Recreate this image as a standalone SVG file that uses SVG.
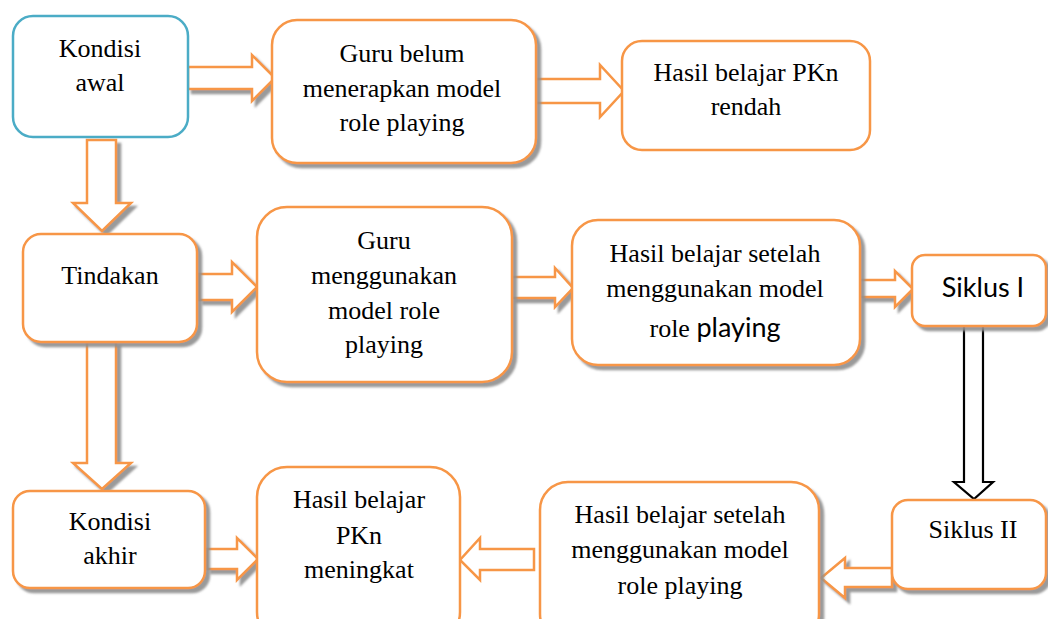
<svg xmlns="http://www.w3.org/2000/svg" width="1048" height="619" viewBox="0 0 1048 619">
  <style>
    .box { fill: #ffffff; stroke: #F79646; stroke-width: 2.5; }
    .blue { fill: #ffffff; stroke: #4BACC6; stroke-width: 2.5; }
    .arr { fill: #ffffff; stroke: #F79646; stroke-width: 2.5; stroke-linejoin: miter; }
    .blk { fill: #ffffff; stroke: #000000; stroke-width: 2.2; }
    .sh { filter: url(#shadow); }
    .t { font-family: "Liberation Serif", "Times New Roman", serif; font-size: 26px; fill: #000000; text-anchor: middle; }
    .cal { font-family: Lato, "Liberation Sans", sans-serif; font-size: 27px; }
  </style>
  <defs>
    <filter id="shadow" x="-10%" y="-10%" width="130%" height="130%">
      <feDropShadow dx="4" dy="4" stdDeviation="0.8" flood-color="#8f8f8f" flood-opacity="0.9"/>
    </filter>
  </defs>
  <rect width="1048" height="619" fill="#ffffff"/>

  <g id="connectors">
    <polygon class="arr sh" points="188,67 252,67 252,55 275,78 252,101 252,89 188,89"/>
    <polygon class="arr" points="536,79 600,79 600,65 624,91 600,117 600,103 536,103"/>
    <polygon class="arr sh" points="87,140 116,140 116,203 131,203 102,231 73,203 87,203"/>
    <polygon class="arr sh" points="199,274 232,274 232,262 257,287 232,312 232,300 199,300"/>
    <polygon class="arr sh" points="512,277 555,277 555,268 573,288 555,307 555,298 512,298"/>
    <polygon class="arr sh" points="860,280 895,280 895,271 913,289 895,307 895,297 860,297"/>
    <polygon class="blk" points="964,325 983,325 983,482 993,482 974,499 954,482 964,482"/>
    <polygon class="arr sh" points="892,568 845,568 845,558 821,578 845,598 845,587 892,587"/>
    <polygon class="arr sh" points="87,342 116,342 116,463 131,463 102,489 73,463 87,463"/>
    <polygon class="arr sh" points="207,549 237,549 237,538 258,559 237,580 237,569 207,569"/>
    <polygon class="arr" points="534,549 480,549 480,538 460,560 480,580 480,570 534,570"/>
  </g>

  <g id="kondisi-awal">
    <rect class="blue" x="13" y="16" width="175" height="121" rx="20"/>
    <text class="t" x="100" y="57">Kondisi</text>
    <text class="t" x="100" y="91">awal</text>
  </g>

  <g id="guru-belum">
    <rect class="box sh" x="272" y="20" width="264" height="143" rx="25"/>
    <text class="t" x="402" y="62">Guru belum</text>
    <text class="t" x="402" y="97">menerapkan model</text>
    <text class="t" x="402" y="131">role playing</text>
  </g>

  <g id="hasil-rendah">
    <rect class="box" x="622" y="41" width="248" height="109" rx="20"/>
    <text class="t" x="746" y="81">Hasil belajar PKn</text>
    <text class="t" x="746" y="115">rendah</text>
  </g>

  <g id="tindakan">
    <rect class="box sh" x="23" y="234" width="174" height="108" rx="18"/>
    <text class="t" x="110" y="284">Tindakan</text>
  </g>

  <g id="guru-menggunakan">
    <rect class="box sh" x="257" y="207" width="255" height="175" rx="30"/>
    <text class="t" x="384" y="249">Guru</text>
    <text class="t" x="384" y="284">menggunakan</text>
    <text class="t" x="384" y="319">model role</text>
    <text class="t" x="384" y="353">playing</text>
  </g>

  <g id="hasil-setelah-1">
    <rect class="box sh" x="572" y="220" width="288" height="145" rx="26"/>
    <text class="t" x="715" y="262">Hasil belajar setelah</text>
    <text class="t" x="715" y="297">menggunakan model</text>
    <text class="t" x="715" y="337">role <tspan class="cal">playing</tspan></text>
  </g>

  <g id="siklus-1">
    <rect class="box sh" x="912" y="255" width="134" height="71" rx="13"/>
    <text class="t cal" x="983" y="297">Siklus I</text>
  </g>

  <g id="siklus-2">
    <rect class="box sh" x="892" y="500" width="154" height="89" rx="16"/>
    <text class="t" x="973" y="538">Siklus II</text>
  </g>

  <g id="hasil-setelah-2">
    <rect class="box sh" x="540" y="482" width="279" height="160" rx="28"/>
    <text class="t" x="680" y="523">Hasil belajar setelah</text>
    <text class="t" x="680" y="558">menggunakan model</text>
    <text class="t" x="680" y="594">role playing</text>
  </g>

  <g id="hasil-meningkat">
    <rect class="box" x="257" y="467" width="203" height="175" rx="30"/>
    <text class="t" x="359" y="508">Hasil belajar</text>
    <text class="t" x="359" y="544">PKn</text>
    <text class="t" x="359" y="578">meningkat</text>
  </g>

  <g id="kondisi-akhir">
    <rect class="box sh" x="13" y="491" width="192" height="97" rx="17"/>
    <text class="t" x="110" y="530">Kondisi</text>
    <text class="t" x="110" y="564">akhir</text>
  </g>
</svg>
